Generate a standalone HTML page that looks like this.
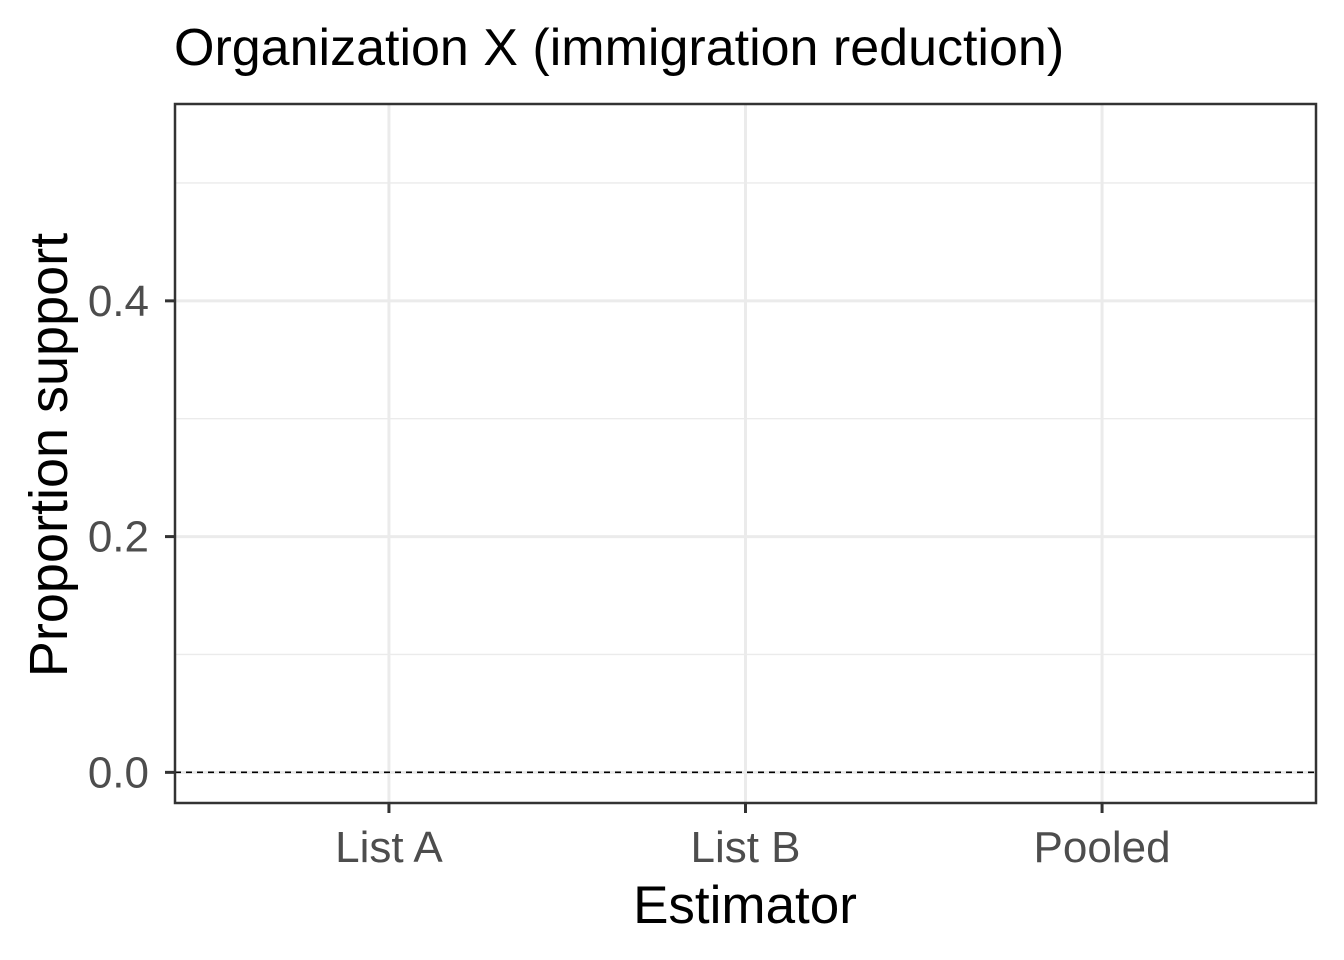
<!DOCTYPE html>
<html><head><meta charset="utf-8">
<style>
html,body{margin:0;padding:0;background:#fff;}
svg{display:block;font-family:"Liberation Sans",Arial,sans-serif;}
</style></head>
<body>
<svg id="chart" width="1344" height="960" viewBox="0 0 1344 960">
<text x="174" y="65" font-size="52" fill="#000">Organization X (immigration reduction)</text>
<g id="plot"></g>
<text x="745" y="923" font-size="53" text-anchor="middle" fill="#000">Estimator</text>
<text transform="translate(67,455) rotate(-90)" font-size="54" text-anchor="middle" fill="#000">Proportion support</text>
</svg>
<script>
const categories = ["List A", "List B", "Pooled"];
const yTicks = [0.0, 0.2, 0.4];
const yTickLabels = ["0.0", "0.2", "0.4"];
const yMinor = [0.1, 0.3, 0.5];

const L = 175, R = 1316, T = 104, B = 803;
const xMin = 0.4, xMax = 3.6, yMin = -0.026, yMax = 0.567;
const xs = i => L + (i + 1 - xMin) / (xMax - xMin) * (R - L);
const ys = v => B - (v - yMin) / (yMax - yMin) * (B - T);

const NS = "http://www.w3.org/2000/svg";
const g = document.getElementById("plot");
function mk(tag, attrs) {
  const e = document.createElementNS(NS, tag);
  for (const k in attrs) e.setAttribute(k, attrs[k]);
  g.appendChild(e);
  return e;
}
yMinor.forEach(v => {
  const e = mk("line", {x1: L, x2: R, y1: ys(v), y2: ys(v), stroke: "#ebebeb", "stroke-width": 1.4});
  
  
});
yTicks.forEach((v, i) => {
  const e = mk("line", {x1: L, x2: R, y1: ys(v), y2: ys(v), stroke: "#ebebeb", "stroke-width": 3});
  
  
  const t = mk("line", {x1: L - 10, x2: L, y1: ys(v), y2: ys(v), stroke: "#333", "stroke-width": 3});
  
  
  const lb = mk("text", {x: L - 26, y: ys(v) + 15, "font-size": 44, "text-anchor": "end", fill: "#4d4d4d"});
  lb.textContent = yTickLabels[i];
  
  
});
categories.forEach((c, i) => {
  const e = mk("line", {x1: xs(i), x2: xs(i), y1: T, y2: B, stroke: "#ebebeb", "stroke-width": 3});
  
  
  const t = mk("line", {x1: xs(i), x2: xs(i), y1: B, y2: B + 10, stroke: "#333", "stroke-width": 3});
  
  
  const lb = mk("text", {x: xs(i), y: 862, "font-size": 44, "text-anchor": "middle", fill: "#4d4d4d"});
  lb.textContent = c;
  
  
});
const zl = mk("line", {x1: L, x2: R, y1: ys(0), y2: ys(0), stroke: "#000", "stroke-width": 1.6, "stroke-dasharray": "6,5"});


const fr = mk("rect", {x: L, y: T, width: R - L, height: B - T, fill: "none", stroke: "#333", "stroke-width": 2.5});


</script>
</body></html>
